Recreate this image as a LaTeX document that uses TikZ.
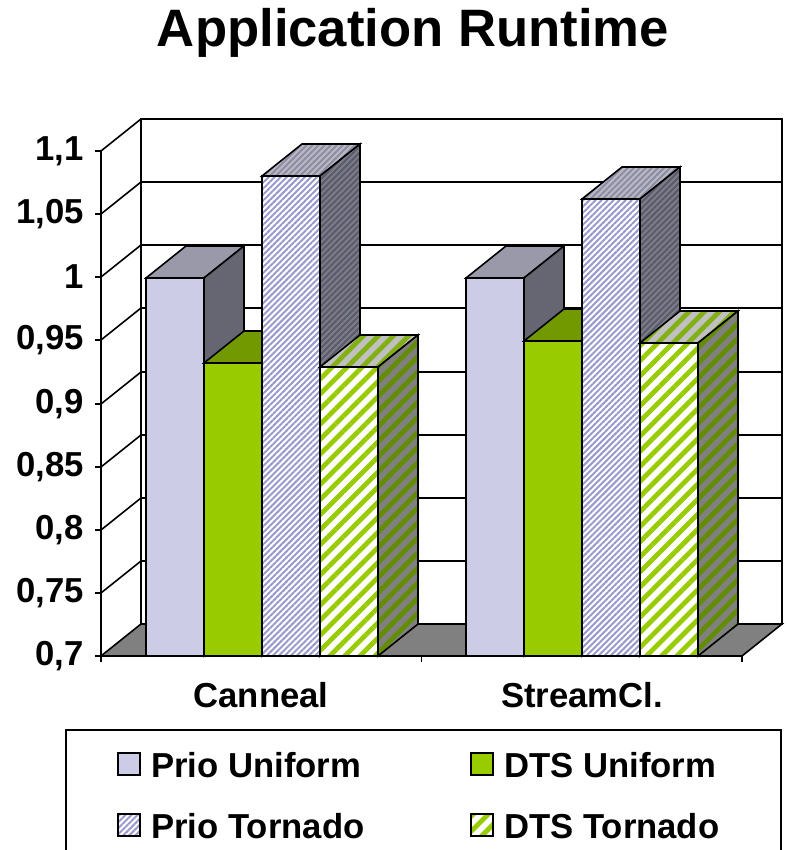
\documentclass[tikz,border=0pt]{standalone}
\usepackage{fontspec}
\setmainfont{Liberation Sans}
\usetikzlibrary{patterns.meta}

\definecolor{prioUfill}{RGB}{204,204,230}
\definecolor{prioUtop}{RGB}{153,153,170}
\definecolor{prioUside}{RGB}{102,102,115}
\definecolor{dtsUfill}{RGB}{153,204,0}
\definecolor{dtsUtop}{RGB}{115,153,0}
\definecolor{dtsUside}{RGB}{77,102,0}
\definecolor{prioTstripe}{RGB}{153,153,204}
\definecolor{prioTtopbg}{RGB}{185,185,195}
\definecolor{prioTtopst}{RGB}{140,140,165}
\definecolor{prioTsidebg}{RGB}{125,125,135}
\definecolor{prioTsidest}{RGB}{90,90,110}
\definecolor{dtsTtopbg}{RGB}{192,192,192}
\definecolor{dtsTtopst}{RGB}{130,175,20}
\definecolor{dtsTsidebg}{RGB}{128,128,128}
\definecolor{dtsTsidest}{RGB}{100,140,0}
\definecolor{floorgrey}{RGB}{128,128,128}

\tikzset{every picture/.style={line width=1.2pt}}
\tikzset{
  lbl/.style={font=\fontsize{26}{30}\selectfont\bfseries},
  prioUfront/.style={fill=prioUfill},
  prioUtopf/.style={fill=prioUtop},
  prioUsidef/.style={fill=prioUside},
  dtsUfront/.style={fill=dtsUfill},
  dtsUtopf/.style={fill=dtsUtop},
  dtsUsidef/.style={fill=dtsUside},
  thinstripes/.style 2 args={preaction={fill=#1},
    preaction={pattern={Lines[angle=45,distance=3.2pt,line width=1.5pt]},pattern color=#2}},
  widestripes/.style 2 args={preaction={fill=#1},
    preaction={pattern={Lines[angle=45,distance=8pt,line width=3.6pt]},pattern color=#2}},
  prioTfront/.style={thinstripes={white}{prioTstripe}},
  prioTtopf/.style={thinstripes={prioTtopbg}{prioTtopst}},
  prioTsidef/.style={thinstripes={prioTsidebg}{prioTsidest}},
  dtsTfront/.style={widestripes={white}{dtsUfill}},
  dtsTtopf/.style={widestripes={dtsTtopbg}{dtsTtopst}},
  dtsTsidef/.style={widestripes={dtsTsidebg}{dtsTsidest}},
}

\begin{document}
\begin{tikzpicture}[x=0.75pt,y=0.75pt,yscale=-1,xscale=1]
	\useasboundingbox (0,0) rectangle (789,850);

	%Shape: Back wall
	\draw   (141,119) rectangle (782,624) ;
	%Straight Lines: back grid
	\draw    (141,182) -- (782,182) ;
	\draw    (141,245) -- (782,245) ;
	\draw    (141,308) -- (782,308) ;
	\draw    (141,372) -- (782,372) ;
	\draw    (141,435) -- (782,435) ;
	\draw    (141,498) -- (782,498) ;
	\draw    (141,561) -- (782,561) ;
	%Straight Lines: side wall
	\draw    (101,151) -- (101,656) ;
	\draw    (101,151) -- (141,119) ;
	\draw    (101,214) -- (141,182) ;
	\draw    (101,277) -- (141,245) ;
	\draw    (101,340) -- (141,308) ;
	\draw    (101,404) -- (141,372) ;
	\draw    (101,467) -- (141,435) ;
	\draw    (101,530) -- (141,498) ;
	\draw    (101,593) -- (141,561) ;
	%Straight Lines: ticks
	\draw    (95,151) -- (101,151) ;
	\draw    (95,214) -- (101,214) ;
	\draw    (95,277) -- (101,277) ;
	\draw    (95,340) -- (101,340) ;
	\draw    (95,404) -- (101,404) ;
	\draw    (95,467) -- (101,467) ;
	\draw    (95,530) -- (101,530) ;
	\draw    (95,593) -- (101,593) ;
	\draw    (95,656) -- (101,656) ;
	\draw    (101,656) -- (101,662) ;
	\draw    (421.5,656) -- (421.5,662) ;
	\draw    (742,656) -- (742,662) ;
	%Shape: Floor
	\draw  [fill=floorgrey]  (101,656) -- (742,656) -- (782,624) -- (141,624) -- cycle ;

	%Shape: Canneal, Prio Uniform
	\draw  [prioUfront]  (146,278) rectangle (204,656) ;
	\draw  [prioUtopf]  (146,278) -- (204,278) -- (244,246) -- (186,246) -- cycle ;
	\draw  [prioUsidef]  (204,278) -- (244,246) -- (244,624) -- (204,656) -- cycle ;
	%Shape: Canneal, DTS Uniform
	\draw  [dtsUfront]  (204,363) rectangle (262,656) ;
	\draw  [dtsUtopf]  (204,363) -- (262,363) -- (302,331) -- (244,331) -- cycle ;
	\draw  [dtsUsidef]  (262,363) -- (302,331) -- (302,624) -- (262,656) -- cycle ;
	%Shape: Canneal, Prio Tornado
	\draw  [prioTfront]  (262,176) rectangle (320,656) ;
	\draw  [prioTtopf]  (262,176) -- (320,176) -- (360,144) -- (302,144) -- cycle ;
	\draw  [prioTsidef]  (320,176) -- (360,144) -- (360,624) -- (320,656) -- cycle ;
	%Shape: Canneal, DTS Tornado
	\draw  [dtsTfront]  (320,367) rectangle (378,656) ;
	\draw  [dtsTtopf]  (320,367) -- (378,367) -- (418,335) -- (360,335) -- cycle ;
	\draw  [dtsTsidef]  (378,367) -- (418,335) -- (418,624) -- (378,656) -- cycle ;

	%Shape: StreamCl., Prio Uniform
	\draw  [prioUfront]  (466,278) rectangle (524,656) ;
	\draw  [prioUtopf]  (466,278) -- (524,278) -- (564,246) -- (506,246) -- cycle ;
	\draw  [prioUsidef]  (524,278) -- (564,246) -- (564,624) -- (524,656) -- cycle ;
	%Shape: StreamCl., DTS Uniform
	\draw  [dtsUfront]  (524,341) rectangle (582,656) ;
	\draw  [dtsUtopf]  (524,341) -- (582,341) -- (622,309) -- (564,309) -- cycle ;
	\draw  [dtsUsidef]  (582,341) -- (622,309) -- (622,624) -- (582,656) -- cycle ;
	%Shape: StreamCl., Prio Tornado
	\draw  [prioTfront]  (582,199) rectangle (640,656) ;
	\draw  [prioTtopf]  (582,199) -- (640,199) -- (680,167) -- (622,167) -- cycle ;
	\draw  [prioTsidef]  (640,199) -- (680,167) -- (680,624) -- (640,656) -- cycle ;
	%Shape: StreamCl., DTS Tornado
	\draw  [dtsTfront]  (640,343) rectangle (698,656) ;
	\draw  [dtsTtopf]  (640,343) -- (698,343) -- (738,311) -- (680,311) -- cycle ;
	\draw  [dtsTsidef]  (698,343) -- (738,311) -- (738,624) -- (698,656) -- cycle ;

	%Shape: Legend
	\draw   (66,730) rectangle (781,870) ;
	\draw  [prioUfront]  (118,753) rectangle (140,775) ;
	\draw  [dtsUfront]  (471,753) rectangle (493,775) ;
	\draw  [prioTfront]  (118,814) rectangle (140,836) ;
	\draw  [dtsTfront]  (471,814) rectangle (493,836) ;

	% Text Node
	\draw (413,33) node (title) [font=\fontsize{39.5}{46}\selectfont\bfseries] {Application Runtime};
	% Text Node
	\draw (89,151) node (y11) [lbl,anchor=east] {1,1};
	% Text Node
	\draw (89,214) node (y105) [lbl,anchor=east] {1,05};
	% Text Node
	\draw (89,277) node (y1) [lbl,anchor=east] {1};
	% Text Node
	\draw (89,340) node (y095) [lbl,anchor=east] {0,95};
	% Text Node
	\draw (89,404) node (y09) [lbl,anchor=east] {0,9};
	% Text Node
	\draw (89,467) node (y085) [lbl,anchor=east] {0,85};
	% Text Node
	\draw (89,530) node (y08) [lbl,anchor=east] {0,8};
	% Text Node
	\draw (89,593) node (y075) [lbl,anchor=east] {0,75};
	% Text Node
	\draw (89,656) node (y07) [lbl,anchor=east] {0,7};
	% Text Node
	\draw (261,695) node (canneal) [lbl] {Canneal};
	% Text Node
	\draw (582,695) node (streamcl) [lbl] {StreamCl.};
	% Text Node
	\draw (146,765) node (prioU) [lbl,anchor=west] {Prio Uniform};
	% Text Node
	\draw (499,765) node (dtsU) [lbl,anchor=west] {DTS Uniform};
	% Text Node
	\draw (146,826) node (prioT) [lbl,anchor=west] {Prio Tornado};
	% Text Node
	\draw (499,826) node (dtsT) [lbl,anchor=west] {DTS Tornado};

\end{tikzpicture}
\end{document}
